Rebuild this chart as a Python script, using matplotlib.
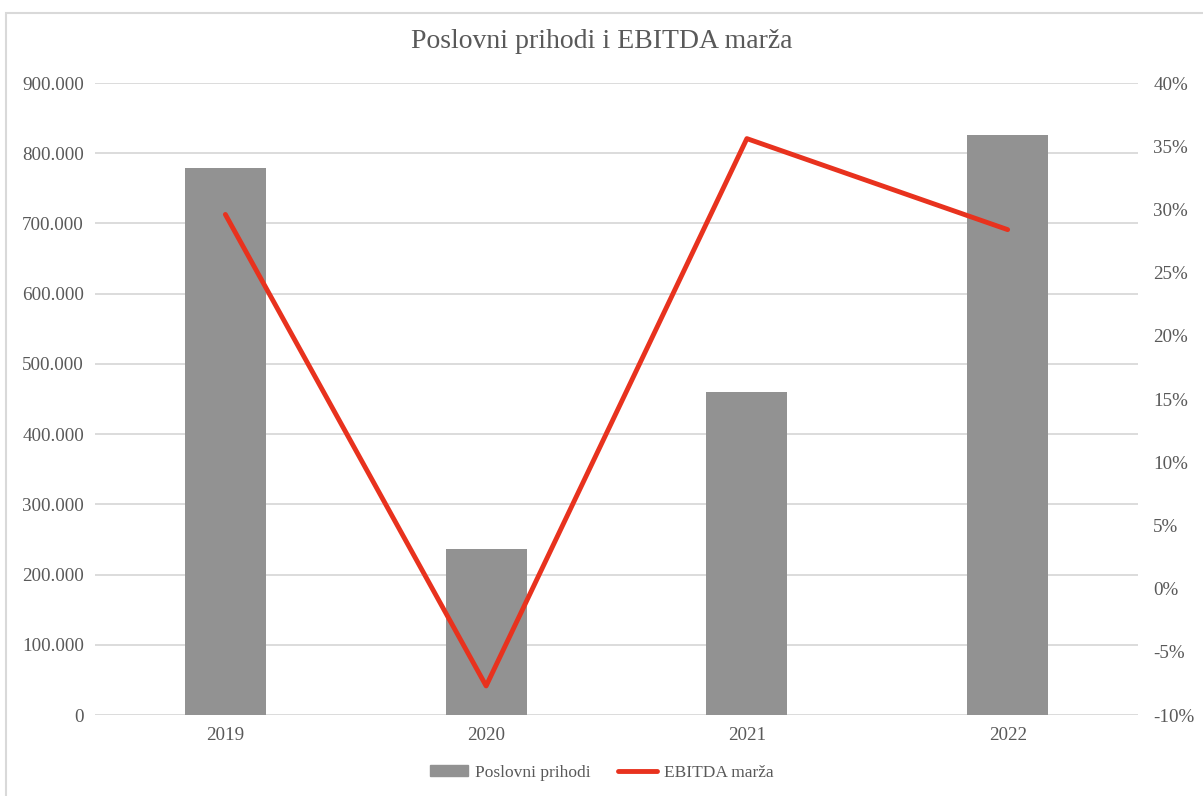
import matplotlib.pyplot as plt
from matplotlib.patches import Rectangle
from matplotlib.ticker import FuncFormatter
from matplotlib.lines import Line2D
from matplotlib.patches import Patch

years = ["2019", "2020", "2021", "2022"]
prihodi = [779000, 237000, 460000, 826000]
ebitda_marza = [29.6, -7.7, 35.6, 28.4]

BAR = "#929292"
RED = "#E8321E"
GRID = "#d9d9d9"
TEXT = "#595959"

plt.rcParams["font.family"] = ["Liberation Serif", "DejaVu Serif"]

fig = plt.figure(figsize=(12.03, 7.96), dpi=100)
ax = fig.add_axes([95 / 1203, 1 - 715 / 796, 1043 / 1203, 632 / 796])

x = list(range(len(years)))
ax.bar(x, prihodi, width=0.31, color=BAR, zorder=2)
ax.set_xlim(-0.5, len(years) - 0.5)
ax.set_ylim(0, 900000)
ax.set_yticks(range(0, 900001, 100000))
ax.yaxis.set_major_formatter(FuncFormatter(lambda v, p: f"{int(v):,}".replace(",", ".")))
ax.set_xticks(x)
ax.set_xticklabels(years)
ax.grid(axis="y", color=GRID, linewidth=1.3, zorder=0)
ax.set_axisbelow(True)
for s in ax.spines.values():
    s.set_visible(False)
ax.tick_params(length=0, colors=TEXT, labelsize=13.7, pad=8)
ax.tick_params(axis="x", pad=9)

ax2 = ax.twinx()
ax2.plot(x, ebitda_marza, color=RED, linewidth=3.5, solid_capstyle="round", zorder=3)
ax2.set_ylim(-10, 40)
ax2.set_yticks(range(-10, 41, 5))
ax2.yaxis.set_major_formatter(FuncFormatter(lambda v, p: f"{int(v)}%"))
for s in ax2.spines.values():
    s.set_visible(False)
ax2.tick_params(length=0, colors=TEXT, labelsize=13.7, pad=11)

fig.text(0.5, 1 - 42 / 796, "Poslovni prihodi i EBITDA marža", ha="center", va="center",
         fontsize=20, color=TEXT)

handles = [Patch(color=BAR), Line2D([0], [0], color=RED, linewidth=3.5, solid_capstyle="round")]
fig.legend(handles, ["Poslovni prihodi", "EBITDA marža"], loc="center",
           bbox_to_anchor=(0.5, 1 - 773 / 796), ncol=2, frameon=False,
           fontsize=12.5, labelcolor=TEXT, handlelength=2.2, handleheight=0.6,
           columnspacing=1.6, handletextpad=0.4)

fig.patches.append(Rectangle((6 / 1203, -0.05), 1.1, 1 - 13 / 796 + 0.05,
                             transform=fig.transFigure, fill=False,
                             edgecolor=GRID, linewidth=1.5))

fig.savefig("out.png", dpi=100, facecolor="white")
